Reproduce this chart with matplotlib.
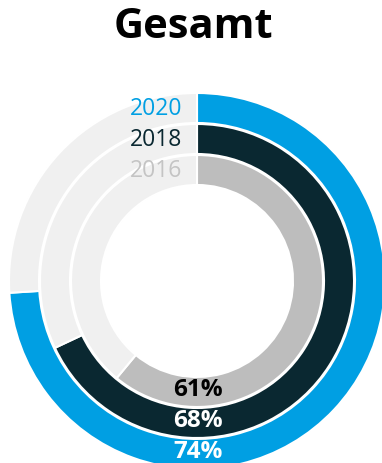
import matplotlib
matplotlib.use("Agg")
import matplotlib.pyplot as plt

# Anteil je Jahr (Prozent), außen -> innen
jahre = ["2020", "2018", "2016"]
werte = [74, 68, 61]
farben = ["#009fe3", "#0a2831", "#bdbdbd"]
jahr_farben = ["#009fe3", "#0a2831", "#c4c4c4"]
wert_farben = ["white", "white", "black"]
hintergrund = "#f0f0f0"

plt.rcParams["font.family"] = ["Open Sans", "DejaVu Sans"]

W, H = 382, 464
fig = plt.figure(figsize=(W / 100, H / 100), dpi=100)
ax = fig.add_axes([0, 0, 1, 1])

# Mittelpunkt und Ringgeometrie in Pixeln (y nach oben)
cx, cy = 197, H - 282
r_aussen = 188
breite = 30
abstand = 1

for i, (jahr, wert) in enumerate(zip(jahre, werte)):
    r = r_aussen - i * (breite + abstand)
    ax.pie([wert, 100 - wert], radius=r, center=(cx, cy),
           startangle=90, counterclock=False,
           colors=[farben[i], hintergrund],
           wedgeprops=dict(width=breite, edgecolor="white", linewidth=1.5))
    r_mitte = r - breite / 2
    # Jahreszahl links vom Startpunkt oben
    ax.text(cx - 15, cy + r_mitte, jahr, ha="right", va="center",
            fontsize=16.5, color=jahr_farben[i])
    # Prozentwert unten auf dem Ring
    ax.text(cx + 1, cy - r_mitte + 2.5, f"{wert}%", ha="center", va="center",
            fontsize=17.5, fontweight="bold", color=wert_farben[i])

ax.text(193, H - 28, "Gesamt", ha="center", va="center",
        fontsize=30, fontweight="bold", color="black")

ax.set_xlim(0, W)
ax.set_ylim(0, H)
ax.set_aspect("equal")
ax.axis("off")

fig.savefig("out.png", dpi=100)
